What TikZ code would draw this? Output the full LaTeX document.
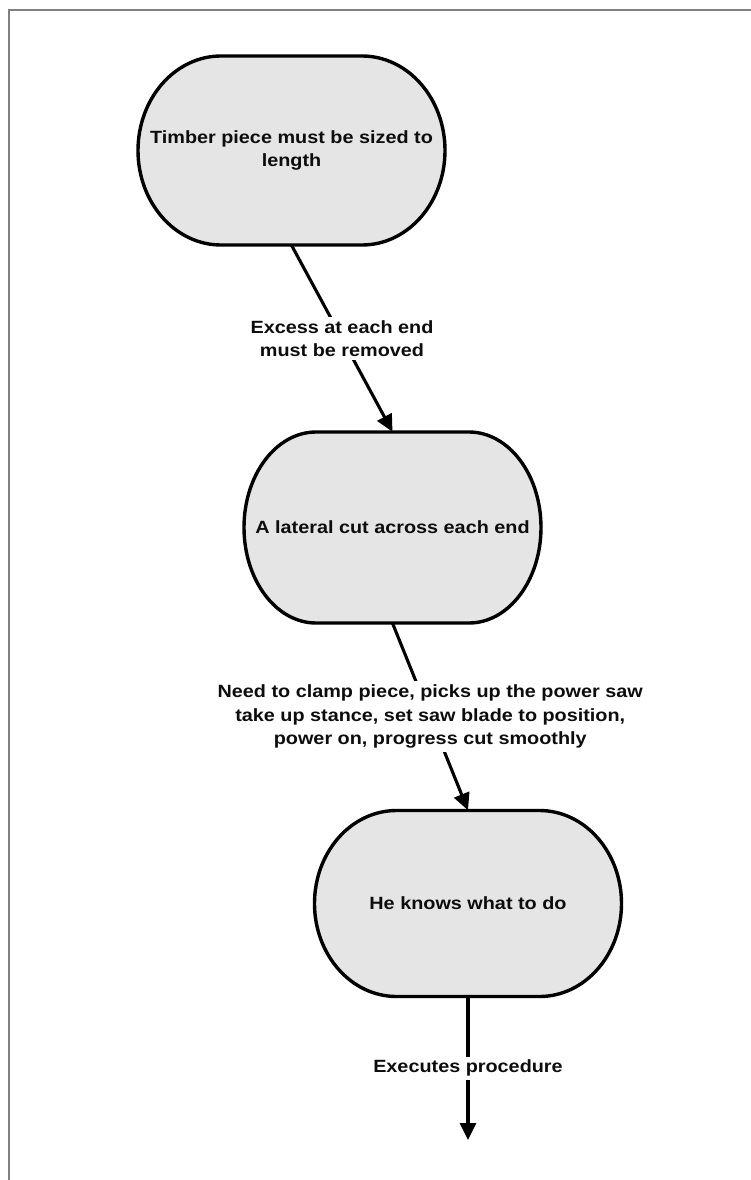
\documentclass[tikz,border=0pt]{standalone}
\usepackage{fontspec}
\usepackage{tikz}
\usetikzlibrary{arrows.meta}
\newfontfamily\flowfont[FakeStretch=1.12]{Liberation Sans}
\definecolor{termfill}{RGB}{229,229,229}
\definecolor{framegray}{RGB}{128,128,128}
\newcommand{\termnode}[6]{%
  \path[termline,shift={(#2)}] (-#3/2+#5,#4/2) -- (#3/2-#5,#4/2)
    arc[start angle=90,end angle=-90,x radius=#5,y radius=#4/2]
    -- (-#3/2+#5,-#4/2)
    arc[start angle=270,end angle=90,x radius=#5,y radius=#4/2] -- cycle;%
  \node[termtext,minimum width=#3,minimum height=#4] (#1) at (#2) {#6};%
}

\begin{document}
\begin{tikzpicture}[x=1pt,y=1pt,
  termline/.style={draw=black,fill=termfill,line width=3.4pt},
  termtext/.style={inner sep=0pt,align=center,text=black!95,
    font=\flowfont\bfseries\fontsize{17.7}{23.5}\selectfont},
  flow/.style={line width=3.1pt,-{Triangle[length=17pt,width=16pt]}},
  edgelabel/.style={fill=white,inner sep=3.5pt,align=center,text=black!95,
    font=\flowfont\bfseries\fontsize{17.7}{23.5}\selectfont}]
  \useasboundingbox (0,0) rectangle (751,-1180);
  \draw[framegray,line width=2.4pt] (751,-10) -- (9,-10) -- (9,-1180);
  \termnode{timber}{291.5,-150.5}{307pt}{189pt}{83pt}{Timber piece must be sized to\\length}
  \termnode{lateral}{392.5,-527.5}{297pt}{191pt}{72pt}{A lateral cut across each end}
  \termnode{knows}{468,-903.5}{307pt}{186pt}{82pt}{He knows what to do}
  \coordinate (finish) at (468,-1140);
  \draw[flow] (timber.south) -- node[edgelabel] (excess) {Excess at each end\\must be removed} (lateral.north);
  \draw[flow] (lateral.south) -- node[edgelabel] (clamp) {Need to clamp piece, picks up the power saw\\take up stance, set saw blade to position,\\power on, progress cut smoothly} (knows.north);
  \draw[flow] (knows.south) -- node[edgelabel] (executes) {Executes procedure} (finish);
\end{tikzpicture}
\end{document}
